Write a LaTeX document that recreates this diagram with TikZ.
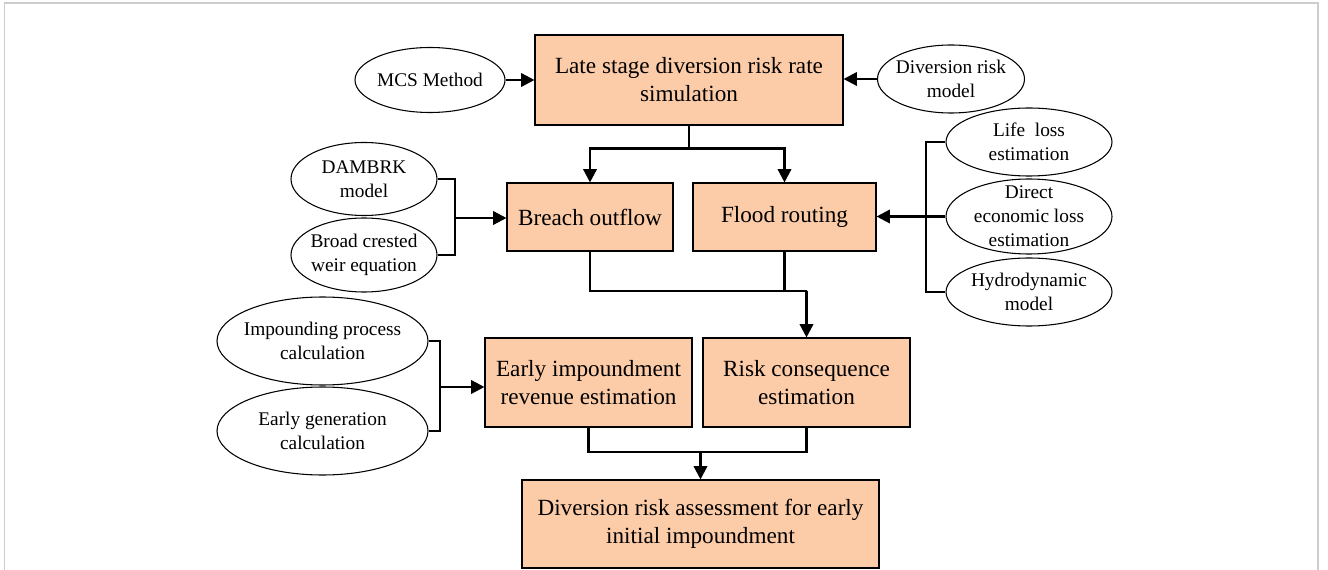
\documentclass[tikz,border=0pt]{standalone}
\usepackage{fontspec}
\setmainfont{Liberation Serif}
\usetikzlibrary{shapes.geometric,arrows.meta,calc}
\definecolor{peach}{RGB}{252,203,168}
\definecolor{framegrey}{RGB}{205,205,205}
\begin{document}
\begin{tikzpicture}[x=0.75pt,y=-0.75pt,
  procbox/.style={draw=black,line width=0.8pt,fill=peach,inner sep=0pt,align=center,
    font=\fontsize{17.4}{21}\selectfont},
  oval/.style={draw=black,line width=0.8pt,ellipse,inner sep=0pt},
  ovaltext/.style={align=center,inner sep=0pt,font=\fontsize{14.5}{18}\selectfont},
  conn/.style={line width=1.8pt},
  arr/.style={-{Triangle[length=10pt,width=10pt]}}]
\useasboundingbox (0,0) rectangle (1328,570);
\draw[framegrey,line width=1.2pt] (4.5,575) -- (4.5,3) -- (1318,3) -- (1318,575);

% process boxes
\node[procbox,minimum width={308*0.75pt},minimum height={90*0.75pt}] (top) at (689,80) {Late stage diversion risk rate\\simulation};
\node[procbox,minimum width={166*0.75pt},minimum height={68*0.75pt}] (breach) at (590,217) {Breach outflow};
\node[procbox,minimum width={183*0.75pt},minimum height={68*0.75pt}] (flood) at (784.5,217) {Flood routing};
\node[procbox,minimum width={207*0.75pt},minimum height={89*0.75pt}] (early) at (588.5,382.5) {Early impoundment\\revenue estimation};
\node[procbox,minimum width={207*0.75pt},minimum height={89*0.75pt}] (risk) at (806.5,382.5) {Risk consequence\\estimation};
\node[procbox,minimum width={357*0.75pt},minimum height={88*0.75pt}] (final) at (700.5,524) {Diversion risk assessment for early\\initial impoundment};

% ellipses
\node[oval,minimum width={150*0.75pt},minimum height={65*0.75pt}] (mcs) at (430,80) {};
\node[ovaltext] (mcs-t) at (mcs) {MCS Method};
\node[oval,minimum width={147*0.75pt},minimum height={68*0.75pt}] (drm) at (951,79) {};
\node[ovaltext] (drm-t) at (drm) {Diversion risk\\model};
\node[oval,minimum width={146*0.75pt},minimum height={73*0.75pt}] (dam) at (364,179) {};
\node[ovaltext] (dam-t) at (dam) {DAMBRK\\model};
\node[oval,minimum width={146*0.75pt},minimum height={74*0.75pt}] (broad) at (364,255) {};
\node[ovaltext] (broad-t) at (broad) {Broad crested\\weir equation};
\node[oval,minimum width={166*0.75pt},minimum height={68*0.75pt}] (life) at (1029,142) {};
\node[ovaltext] (life-t) at (life) {Life\ \ loss\\estimation};
\node[oval,minimum width={166*0.75pt},minimum height={75*0.75pt}] (econ) at (1029,216.5) {};
\node[ovaltext] (econ-t) at (econ) {Direct\\economic loss\\estimation};
\node[oval,minimum width={166*0.75pt},minimum height={68*0.75pt}] (hydro) at (1029,292) {};
\node[ovaltext] (hydro-t) at (hydro) {Hydrodynamic\\model};
\node[oval,minimum width={211*0.75pt},minimum height={88*0.75pt}] (imp) at (322.5,341) {};
\node[ovaltext] (imp-t) at (imp) {Impounding process\\calculation};
\node[oval,minimum width={211*0.75pt},minimum height={88*0.75pt}] (gen) at (322.5,431) {};
\node[ovaltext] (gen-t) at (gen) {Early generation\\calculation};

% connectors
\draw[conn,arr] (mcs.east) -- (mcs.east -| top.west);
\draw[conn,arr] (drm.west) -- (drm.west -| top.east);

\coordinate (j1) at ($(top.south)+(0,23)$);
\draw[conn] (top.south) -- (j1);
\draw[conn,arr] (j1) -| (breach.north);
\draw[conn,arr] (j1) -| (flood.north);

\coordinate (b1) at (455,218);
\draw[conn] (dam.east) -| (b1);
\draw[conn] (broad.east) -| (b1);
\draw[conn,arr] (b1) -- (b1 -| breach.west);

\coordinate (b2) at (926,217);
\draw[conn] (life.west) -| (b2);
\draw[conn] (hydro.west) -| (b2);
\draw[conn,arr] (econ.west) -- (econ.west -| flood.east);

\coordinate (j2) at (806.5,291);
\draw[conn] (breach.south) |- (j2);
\draw[conn] (flood.south) |- (j2);
\draw[conn,arr] (j2) -- (risk.north);

\coordinate (b3) at (440,387);
\draw[conn] (imp.east) -| (b3);
\draw[conn] (gen.east) -| (b3);
\draw[conn,arr] (b3) -- (b3 -| early.west);

\coordinate (j3) at (700.5,452);
\draw[conn] (early.south) |- (j3);
\draw[conn] (risk.south) |- (j3);
\draw[conn,arr] (j3) -- (final.north);
\end{tikzpicture}
\end{document}
